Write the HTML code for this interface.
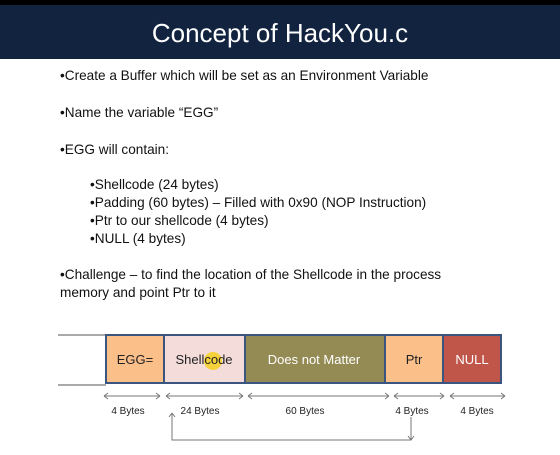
<!DOCTYPE html>
<html><head><style>
body{margin:0;width:560px;height:455px;background:#fff;position:relative;overflow:hidden;font-family:"Liberation Sans",sans-serif;}
.t{position:absolute;font-size:13.6px;color:#111;white-space:nowrap;}
</style></head><body>
<div style="position:absolute;left:0;top:0;width:560px;height:5px;background:#000"></div>
<div style="position:absolute;left:0;top:5px;width:560px;height:54px;background:#11233f;color:#fff;font-size:26px;text-align:center;line-height:56px">Concept of HackYou.c</div>
<div class="t" style="left:60px;top:68px">•Create a Buffer which will be set as an Environment Variable</div>
<div class="t" style="left:60px;top:105px">•Name the variable “EGG”</div>
<div class="t" style="left:60px;top:142px">•EGG will contain:</div>
<div class="t" style="left:90px;top:177px">•Shellcode (24 bytes)</div>
<div class="t" style="left:90px;top:195px">•Padding (60 bytes) – Filled with 0x90 (NOP Instruction)</div>
<div class="t" style="left:90px;top:213px">•Ptr to our shellcode (4 bytes)</div>
<div class="t" style="left:90px;top:231px">•NULL (4 bytes)</div>
<div class="t" style="left:60px;top:267px">•Challenge – to find the location of the Shellcode in the process</div>
<div class="t" style="left:60px;top:285px">memory and point Ptr to it</div>
<svg width="560" height="455" style="position:absolute;left:0;top:0" font-family="Liberation Sans" font-size="13">
<line x1="58" y1="335" x2="106" y2="335" stroke="#555"/>
<line x1="58" y1="385" x2="106" y2="385" stroke="#555"/>
<g stroke="#3a5680" stroke-width="2">
<rect x="106" y="335" width="58" height="48" fill="#fbbf8a"/>
<rect x="164" y="335" width="81" height="48" fill="#f3dcda"/>
<rect x="245" y="335" width="140" height="48" fill="#948a54"/>
<rect x="385" y="335" width="58" height="48" fill="#fbbf8a"/>
<rect x="443" y="335" width="58" height="48" fill="#c0554a"/>
</g>
<circle cx="213" cy="361" r="9" fill="#f5d020" opacity="0.85"/>
<g text-anchor="middle">
<text x="135" y="364" fill="#222">EGG=</text>
<text x="204" y="364" fill="#222">Shellcode</text>
<text x="314" y="364" fill="#fff">Does not Matter</text>
<text x="414" y="364" fill="#222">Ptr</text>
<text x="472" y="364" fill="#fff">NULL</text>
<g font-size="10" fill="#222">
<text x="128" y="414">4 Bytes</text>
<text x="200" y="414">24 Bytes</text>
<text x="305" y="414">60 Bytes</text>
<text x="412" y="414">4 Bytes</text>
<text x="477" y="414">4 Bytes</text>
</g></g>
<g stroke="#777" fill="none" stroke-width="1">
<path d="M104 396H160M104 396l4-3M104 396l4 3M160 396l-4-3M160 396l-4 3"/>
<path d="M166 396H243M166 396l4-3M166 396l4 3M243 396l-4-3M243 396l-4 3"/>
<path d="M248 396H389M248 396l4-3M248 396l4 3M389 396l-4-3M389 396l-4 3"/>
<path d="M394 396H444M394 396l4-3M394 396l4 3M444 396l-4-3M444 396l-4 3"/>
<path d="M450 396H505M450 396l4-3M450 396l4 3M505 396l-4-3M505 396l-4 3"/>
<path d="M172 413V440H411V417M172 413l-3 4M172 413l3 4M411 440l-3-4M411 440l3-4"/>
</g>
</svg>
</body></html>
